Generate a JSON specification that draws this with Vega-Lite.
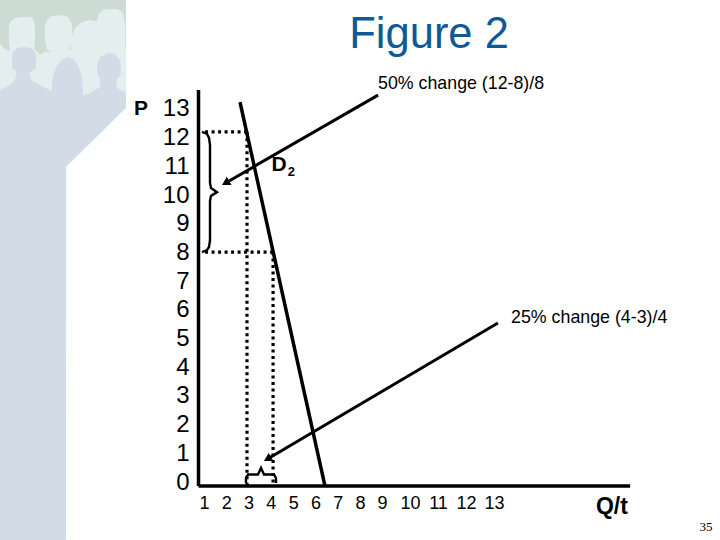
{
  "$schema": "https://vega.github.io/schema/vega-lite/v6.json",
  "width": 720,
  "height": 540,
  "padding": 0,
  "autosize": "none",
  "background": "#ffffff",
  "datasets": {
    "backdrop": [
      {"q": -8.15, "p": 16.794, "p2": 13.31},
      {"q": -2.5, "p": 16.794, "p2": 13.31}
    ],
    "rear": [
      {"group": "body", "q": -8.15, "p": 15.26, "p2": 13.31},
      {"group": "body", "q": -7.88, "p": 15.05, "p2": 13.31},
      {"group": "body", "q": -6.58, "p": 15.05, "p2": 13.31},
      {"group": "body", "q": -6.36, "p": 14.91, "p2": 13.31},
      {"group": "body", "q": -6.13, "p": 14.98, "p2": 13.31},
      {"group": "body", "q": -5.19, "p": 14.98, "p2": 13.31},
      {"group": "body", "q": -5.01, "p": 15.05, "p2": 13.31},
      {"group": "body", "q": -3.66, "p": 15.05, "p2": 13.31},
      {"group": "body", "q": -2.5, "p": 15.19, "p2": 13.31},
      {"group": "a", "q": -7.75, "p": 15.92, "p2": 15.4},
      {"group": "a", "q": -7.7, "p": 16.03, "p2": 15.05},
      {"group": "a", "q": -7.48, "p": 16.17, "p2": 14.98},
      {"group": "a", "q": -7.16, "p": 16.2, "p2": 14.98},
      {"group": "a", "q": -6.8, "p": 16.2, "p2": 14.98},
      {"group": "a", "q": -6.62, "p": 16.1, "p2": 15.05},
      {"group": "a", "q": -6.58, "p": 15.82, "p2": 15.4},
      {"group": "b", "q": -6.13, "p": 15.92, "p2": 15.4},
      {"group": "b", "q": -6.04, "p": 16.1, "p2": 15.05},
      {"group": "b", "q": -5.82, "p": 16.24, "p2": 14.98},
      {"group": "b", "q": -5.46, "p": 16.27, "p2": 14.98},
      {"group": "b", "q": -5.1, "p": 16.2, "p2": 14.98},
      {"group": "b", "q": -4.92, "p": 15.96, "p2": 15.3},
      {"group": "c", "q": -4.96, "p": 15.47, "p2": 15},
      {"group": "c", "q": -4.79, "p": 15.82, "p2": 14.88},
      {"group": "c", "q": -4.47, "p": 16.03, "p2": 14.7},
      {"group": "c", "q": -4.11, "p": 16.1, "p2": 14.7},
      {"group": "c", "q": -3.66, "p": 16.03, "p2": 14.7},
      {"group": "d", "q": -3.8, "p": 15.92, "p2": 15.05},
      {"group": "d", "q": -3.75, "p": 16.27, "p2": 14.7},
      {"group": "d", "q": -3.53, "p": 16.45, "p2": 14.7},
      {"group": "d", "q": -3.22, "p": 16.48, "p2": 14.7},
      {"group": "d", "q": -2.86, "p": 16.48, "p2": 14.7},
      {"group": "d", "q": -2.63, "p": 16.34, "p2": 14.88},
      {"group": "d", "q": -2.54, "p": 15.92, "p2": 15.19}
    ],
    "front": [
      {"group": "body", "q": -8.15, "p": 13.66, "p2": -2.02},
      {"group": "body", "q": -7.79, "p": 13.8, "p2": -2.02},
      {"group": "body", "q": -7.48, "p": 14.01, "p2": -2.02},
      {"group": "body", "q": -7.39, "p": 14.29, "p2": -2.02},
      {"group": "body", "q": -6.85, "p": 14.29, "p2": -2.02},
      {"group": "body", "q": -6.76, "p": 14.01, "p2": -2.02},
      {"group": "body", "q": -6.36, "p": 13.83, "p2": -2.02},
      {"group": "body", "q": -5.91, "p": 13.66, "p2": -2.02},
      {"group": "body", "q": -5.68, "p": 13.59, "p2": -2.02},
      {"group": "body", "q": -5.19, "p": 13.5, "p2": -2.02},
      {"group": "body", "q": -5.18, "p": 13.5, "p2": 10.98},
      {"group": "body", "q": -4.43, "p": 13.45, "p2": 11.56},
      {"group": "body", "q": -4.11, "p": 13.55, "p2": 11.8},
      {"group": "body", "q": -3.66, "p": 13.76, "p2": 12.14},
      {"group": "body", "q": -3.62, "p": 14.36, "p2": 12.17},
      {"group": "body", "q": -2.95, "p": 14.36, "p2": 12.69},
      {"group": "body", "q": -2.92, "p": 13.76, "p2": 12.71},
      {"group": "body", "q": -2.77, "p": 13.66, "p2": 12.83},
      {"group": "body", "q": -2.5, "p": 13.59, "p2": 13.03},
      {"group": "h1", "q": -7.61, "p": 14.77, "p2": 14.43},
      {"group": "h1", "q": -7.57, "p": 14.98, "p2": 14.36},
      {"group": "h1", "q": -7.39, "p": 15.12, "p2": 14.29},
      {"group": "h1", "q": -7.07, "p": 15.16, "p2": 14.22},
      {"group": "h1", "q": -6.76, "p": 15.12, "p2": 14.29},
      {"group": "h1", "q": -6.58, "p": 14.98, "p2": 14.36},
      {"group": "h1", "q": -6.53, "p": 14.77, "p2": 14.43},
      {"group": "h2", "q": -5.82, "p": 13.83, "p2": 13.48},
      {"group": "h2", "q": -5.77, "p": 14.18, "p2": 13.41},
      {"group": "h2", "q": -5.59, "p": 14.53, "p2": 13.41},
      {"group": "h2", "q": -5.32, "p": 14.74, "p2": 13.41},
      {"group": "h2", "q": -5.1, "p": 14.81, "p2": 13.41},
      {"group": "h2", "q": -4.83, "p": 14.7, "p2": 13.41},
      {"group": "h2", "q": -4.61, "p": 14.46, "p2": 13.41},
      {"group": "h2", "q": -4.47, "p": 14.08, "p2": 13.41},
      {"group": "h2", "q": -4.43, "p": 13.59, "p2": 13.41},
      {"group": "h3", "q": -3.8, "p": 14.53, "p2": 14.29},
      {"group": "h3", "q": -3.66, "p": 14.81, "p2": 14.01},
      {"group": "h3", "q": -3.3, "p": 14.95, "p2": 13.83},
      {"group": "h3", "q": -2.99, "p": 14.91, "p2": 13.94},
      {"group": "h3", "q": -2.77, "p": 14.7, "p2": 14.15},
      {"group": "h3", "q": -2.72, "p": 14.36, "p2": 14.29}
    ],
    "frame": [
      {"group": "y axis", "n": 1, "q": 0.755, "p": 13.66},
      {"group": "y axis", "n": 2, "q": 0.755, "p": -0.14},
      {"group": "x axis", "n": 1, "q": 0.755, "p": -0.14},
      {"group": "x axis", "n": 2, "q": 17.86, "p": -0.14},
      {"group": "D2", "n": 1, "q": 2.617, "p": 13.24},
      {"group": "D2", "n": 2, "q": 6.43, "p": -0.14}
    ],
    "dotted": [
      {"group": "P12", "q": 1.05, "p": 12.2},
      {"group": "P12", "q": 2.93, "p": 12.2},
      {"group": "P8", "q": 1.05, "p": 8.01},
      {"group": "P8", "q": 4.1, "p": 8.01},
      {"group": "Q3", "q": 2.93, "p": 12.2},
      {"group": "Q3", "q": 2.93, "p": -0.14},
      {"group": "Q4", "q": 4.1, "p": 8.01},
      {"group": "Q4", "q": 4.1, "p": -0.14}
    ],
    "leaders": [
      {"group": "price", "q": 8.82, "p": 13.48},
      {"group": "price", "q": 1.97, "p": 10.42},
      {"group": "quantity", "q": 13.14, "p": 5.54},
      {"group": "quantity", "q": 3.85, "p": 0.8}
    ],
    "heads": [
      {"group": "price", "q": 1.97, "p": 10.42},
      {"group": "quantity", "q": 3.85, "p": 0.8}
    ],
    "braces": [
      {"group": "price", "n": 1, "q": 0.912, "p": 12.2},
      {"group": "price", "n": 2, "q": 1.136, "p": 12.13},
      {"group": "price", "n": 3, "q": 1.226, "p": 11.99},
      {"group": "price", "n": 4, "q": 1.271, "p": 11.74},
      {"group": "price", "n": 5, "q": 1.271, "p": 10.42},
      {"group": "price", "n": 6, "q": 1.316, "p": 10.24},
      {"group": "price", "n": 7, "q": 1.585, "p": 10.1},
      {"group": "price", "n": 8, "q": 1.316, "p": 9.97},
      {"group": "price", "n": 9, "q": 1.271, "p": 9.79},
      {"group": "price", "n": 10, "q": 1.271, "p": 8.43},
      {"group": "price", "n": 11, "q": 1.226, "p": 8.19},
      {"group": "price", "n": 12, "q": 1.136, "p": 8.08},
      {"group": "price", "n": 13, "q": 0.912, "p": 8.01},
      {"group": "quantity", "n": 1, "q": 2.886, "p": -0.03},
      {"group": "quantity", "n": 2, "q": 2.886, "p": 0.14},
      {"group": "quantity", "n": 3, "q": 2.976, "p": 0.26},
      {"group": "quantity", "n": 4, "q": 3.424, "p": 0.26},
      {"group": "quantity", "n": 5, "q": 3.558, "p": 0.49},
      {"group": "quantity", "n": 6, "q": 3.692, "p": 0.26},
      {"group": "quantity", "n": 7, "q": 4.141, "p": 0.26},
      {"group": "quantity", "n": 8, "q": 4.231, "p": 0.14},
      {"group": "quantity", "n": 9, "q": 4.231, "p": -0.03}
    ],
    "notes": [
      {"q": 8.82, "p": 13.85, "label": "50% change (12-8)/8"},
      {"q": 13.61, "p": 5.71, "label": "25% change (4-3)/4"}
    ],
    "names": [
      {"q": -1.825, "p": 13, "label": "P"},
      {"q": 4.37, "p": 11.05, "label": "D"}
    ]
  },
  "encoding": {
    "x": {
      "field": "q",
      "type": "quantitative",
      "scale": {"domain": [-8.15, 8, 9, 10, 21.07], "range": [0, 360, 382, 410, 720], "nice": false, "zero": false},
      "axis": {
        "title": null,
        "values": [1, 2, 3, 4, 5, 6, 7, 8, 9, 10, 11, 12, 13],
        "format": "d",
        "domain": false,
        "ticks": false,
        "grid": false,
        "offset": -48,
        "labelPadding": 2,
        "labelAngle": 0,
        "labelFlush": false,
        "labelOverlap": false,
        "labelFont": "Liberation Sans",
        "labelFontSize": 18,
        "labelColor": "#000000"
      }
    },
    "y": {
      "field": "p",
      "type": "quantitative",
      "scale": {"domain": [-2.02, 16.794], "nice": false, "zero": false},
      "axis": {
        "title": null,
        "values": [0, 1, 2, 3, 4, 5, 6, 7, 8, 9, 10, 11, 12, 13],
        "format": "d",
        "domain": false,
        "ticks": false,
        "grid": false,
        "offset": -190,
        "labelPadding": 1,
        "labelFlush": false,
        "labelOverlap": false,
        "labelFont": "Liberation Sans",
        "labelFontSize": 24,
        "labelColor": "#000000"
      }
    }
  },
  "layer": [
    {
      "data": {"name": "backdrop"},
      "mark": {"type": "area", "color": "#cddbd5", "opacity": 1},
      "encoding": {"y2": {"field": "p2"}}
    },
    {
      "data": {"name": "rear"},
      "mark": {"type": "area", "color": "#e4eeef", "opacity": 1},
      "encoding": {"y2": {"field": "p2"}, "detail": {"field": "group"}}
    },
    {
      "data": {"name": "front"},
      "mark": {"type": "area", "color": "#d3dbe7", "opacity": 1},
      "encoding": {"y2": {"field": "p2"}, "detail": {"field": "group"}}
    },
    {
      "data": {"name": "frame"},
      "mark": {"type": "line", "color": "#000000", "strokeWidth": 3.5, "strokeCap": "butt"},
      "encoding": {"detail": {"field": "group"}, "order": {"field": "n"}}
    },
    {
      "data": {"name": "dotted"},
      "mark": {"type": "line", "color": "#000000", "strokeWidth": 3.2, "strokeDash": [3, 3.5]},
      "encoding": {"detail": {"field": "group"}}
    },
    {
      "data": {"name": "leaders"},
      "mark": {"type": "line", "color": "#000000", "strokeWidth": 3},
      "encoding": {"detail": {"field": "group"}}
    },
    {
      "data": {"name": "heads"},
      "mark": {"type": "point", "shape": "triangle-up", "filled": true, "size": 90, "angle": 240, "color": "#000000", "opacity": 1}
    },
    {
      "data": {"name": "braces"},
      "mark": {"type": "line", "color": "#000000", "strokeWidth": 2.4},
      "encoding": {"detail": {"field": "group"}, "order": {"field": "n"}}
    },
    {
      "data": {"name": "notes"},
      "mark": {"type": "text", "font": "Liberation Sans", "fontSize": 17.8, "align": "left", "baseline": "middle", "color": "#000000"},
      "encoding": {"text": {"field": "label"}}
    },
    {
      "data": {"name": "names"},
      "mark": {"type": "text", "font": "Liberation Sans", "fontWeight": "bold", "fontSize": 21, "align": "center", "baseline": "middle", "color": "#000000"},
      "encoding": {"text": {"field": "label"}}
    },
    {
      "data": {"values": [{"q": 17.21, "p": -0.88, "label": "Q/t"}]},
      "mark": {"type": "text", "font": "Liberation Sans", "fontWeight": "bold", "fontSize": 23, "align": "center", "baseline": "middle", "color": "#000000"},
      "encoding": {"text": {"field": "label"}}
    },
    {
      "data": {"values": [{"q": 4.76, "p": 10.8, "label": "2"}]},
      "mark": {"type": "text", "font": "Liberation Sans", "fontWeight": "bold", "fontSize": 13, "align": "left", "baseline": "middle", "color": "#000000"},
      "encoding": {"text": {"field": "label"}}
    },
    {
      "data": {"values": [{"q": 10.68, "p": 15.57, "label": "Figure 2"}]},
      "mark": {"type": "text", "font": "Liberation Sans", "fontSize": 43.5, "align": "center", "baseline": "middle", "color": "#0f5a94"},
      "encoding": {"text": {"field": "label"}}
    },
    {
      "data": {"values": [{"q": 20.57, "p": -1.57, "label": "35"}]},
      "mark": {"type": "text", "font": "Liberation Serif", "fontSize": 13, "align": "center", "baseline": "middle", "color": "#000000"},
      "encoding": {"text": {"field": "label"}}
    }
  ],
  "config": {"view": {"stroke": null}, "style": {"cell": {"stroke": "transparent"}}}
}
